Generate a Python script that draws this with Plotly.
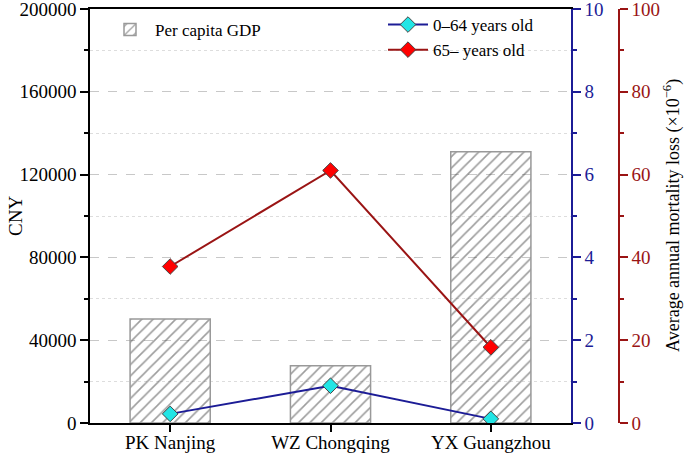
import plotly.graph_objects as go

categories = ["PK Nanjing", "WZ Chongqing", "YX Guangzhou"]
gdp = [50200, 27700, 131000]
young = [0.22, 0.90, 0.10]
old = [37.8, 61.0, 18.3]

FONT = "Liberation Serif"
BLUE = "#1c1c96"
RED = "#9a1414"

fig = go.Figure()
fig.add_trace(go.Bar(
    x=categories, y=gdp, name="Per capita GDP", width=0.5,
    marker=dict(color="rgba(255,255,255,0)", line=dict(color="#999999", width=1.5),
                pattern=dict(shape="/", fgcolor="#3c3c3c", bgcolor="rgba(255,255,255,0)",
                             size=8, solidity=0.2)),
    legend="legend", yaxis="y"))
fig.add_trace(go.Scatter(
    x=categories, y=young, name="0\u201364 years old", mode="lines+markers",
    line=dict(color=BLUE, width=2),
    marker=dict(symbol="diamond", size=12, color="#22e5e5", line=dict(color="#444444", width=1)),
    legend="legend2", yaxis="y2"))
fig.add_trace(go.Scatter(
    x=categories, y=old, name="65\u2013 years old", mode="lines+markers",
    line=dict(color=RED, width=2),
    marker=dict(symbol="diamond", size=12, color="#ff0000", line=dict(color="#444444", width=1)),
    legend="legend2", yaxis="y3"))

L, R, T, B = 90, 66, 9, 32
W = 685 - L - R
H = 455 - T - B
dom = (571 - L) / W

def px2paper(x):
    return (x - L) / W

def py2paper(y):
    return 1 - (y - T) / H

fig.update_layout(
    width=685, height=455,
    margin=dict(l=L, r=R, t=T, b=B, autoexpand=False),
    paper_bgcolor="white", plot_bgcolor="white",
    font=dict(family=FONT, size=19, color="black"),
    xaxis=dict(domain=[0, dom], range=[-0.5, 2.5], showline=True, linecolor="black", linewidth=1.5,
               mirror=True, ticks="outside", ticklen=7, tickwidth=1.5, tickcolor="black",
               tickfont=dict(size=19), automargin=False, ticklabeloverflow="allow",
               ticklabelstandoff=-6),
    yaxis=dict(range=[0, 200000], dtick=40000, showline=True, linecolor="black", linewidth=1.5,
               ticks="outside", ticklen=8, tickwidth=1.5, tickcolor="black",
               showgrid=True, gridcolor="#c8c8c8", griddash="dash", gridwidth=1,
               minor=dict(dtick=20000, ticks="outside", ticklen=4, tickcolor="black",
                          showgrid=True, gridcolor="#dddddd", griddash="dot"),
               zeroline=False, tickformat="d", automargin=False, ticklabeloverflow="allow"),
    yaxis2=dict(range=[0, 10], dtick=2, overlaying="y", side="right", anchor="x",
                showline=True, linecolor=BLUE, linewidth=1.5, showgrid=False, zeroline=False,
                ticks="outside", ticklen=8, tickwidth=1.5, tickcolor=BLUE,
                minor=dict(dtick=1, ticks="outside", ticklen=4, tickcolor=BLUE),
                tickfont=dict(color=BLUE, size=19), automargin=False, ticklabeloverflow="allow"),
    yaxis3=dict(range=[0, 100], dtick=20, overlaying="y", side="right", anchor="free", position=1.0,
                showline=True, linecolor=RED, linewidth=1.5, showgrid=False, zeroline=False,
                ticks="outside", ticklen=8, tickwidth=1.5, tickcolor=RED,
                minor=dict(dtick=10, ticks="outside", ticklen=4, tickcolor=RED),
                tickfont=dict(color=RED, size=19), automargin=False, ticklabeloverflow="allow"),
    legend=dict(x=px2paper(105), y=py2paper(12), xanchor="left", yanchor="top", bgcolor="rgba(0,0,0,0)",
                font=dict(size=17), itemwidth=40),
    legend2=dict(x=px2paper(383), y=py2paper(7), xanchor="left", yanchor="top", bgcolor="rgba(0,0,0,0)",
                 font=dict(size=17), itemwidth=40, tracegroupgap=0),
    showlegend=True,
    annotations=[
        dict(text="CNY", xref="paper", yref="paper", x=px2paper(15), y=0.5, showarrow=False,
             textangle=-90, font=dict(size=19), xanchor="center", yanchor="middle"),
        dict(text="Average annual mortality loss (\u00d710<sup>\u22126</sup>)", xref="paper", yref="paper",
             x=px2paper(672), y=0.5, showarrow=False, textangle=-90, font=dict(size=18),
             xanchor="center", yanchor="middle"),
    ],
)

fig.write_html("out.html", config={"displayModeBar": False},
               post_script="document.body.style.margin='0';document.body.style.overflow='hidden';")
